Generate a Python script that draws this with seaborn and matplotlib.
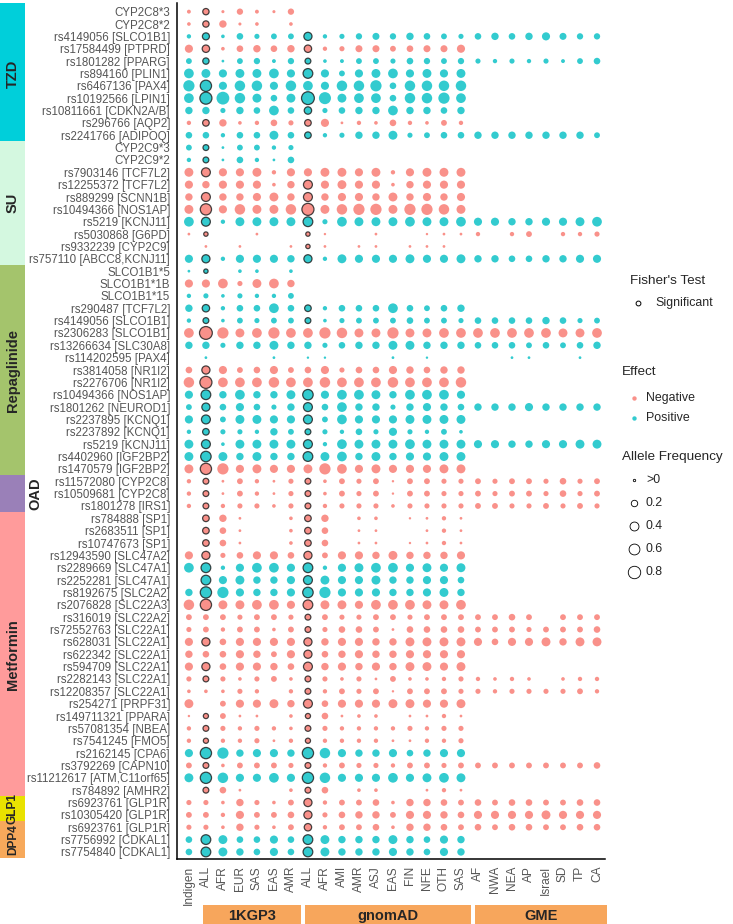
import matplotlib
matplotlib.use("Agg")
import pandas as pd
import matplotlib.pyplot as plt
import matplotlib.transforms as mtransforms
from matplotlib.patches import Rectangle
import seaborn as sns

# === Data ===
populations = ["Indigen", "ALL", "AFR", "EUR", "SAS", "EAS", "AMR",
               "ALL", "AFR", "AMI", "AMR", "ASJ", "EAS", "FIN", "NFE", "OTH", "SAS",
               "AF", "NWA", "NEA", "AP", "Israel", "SD", "TP", "CA"]
sources = ["1KGP3", "gnomAD", "GME"]
source_first_last = [(1, 6), (7, 16), (17, 24)]

drug_groups = ["TZD", "SU", "Repaglinide", "OAD", "Metformin", "GLP1", "DPP4"]
group_sizes = [11, 10, 17, 3, 23, 2, 3]
group_colors = ["#00CFDA", "#D4F8E0", "#A4C46C", "#9A80B8", "#FF9B9B", "#E9E200", "#F7A95B"]

variants = [
    "CYP2C8*3", "CYP2C8*2", "rs4149056 [SLCO1B1]", "rs17584499 [PTPRD]", "rs1801282 [PPARG]",
    "rs894160 [PLIN1]", "rs6467136 [PAX4]", "rs10192566 [LPIN1]", "rs10811661 [CDKN2A/B]",
    "rs296766 [AQP2]", "rs2241766 [ADIPOQ]",
    "CYP2C9*3", "CYP2C9*2", "rs7903146 [TCF7L2]", "rs12255372 [TCF7L2]", "rs889299 [SCNN1B]",
    "rs10494366 [NOS1AP]", "rs5219 [KCNJ11]", "rs5030868 [G6PD]", "rs9332239 [CYP2C9]",
    "rs757110 [ABCC8,KCNJ11]",
    "SLCO1B1*5", "SLCO1B1*1B", "SLCO1B1*15", "rs290487 [TCF7L2]", "rs4149056 [SLCO1B1]",
    "rs2306283 [SLCO1B1]", "rs13266634 [SLC30A8]", "rs114202595 [PAX4]", "rs3814058 [NR1I2]",
    "rs2276706 [NR1I2]", "rs10494366 [NOS1AP]", "rs1801262 [NEUROD1]", "rs2237895 [KCNQ1]",
    "rs2237892 [KCNQ1]", "rs5219 [KCNJ11]", "rs4402960 [IGF2BP2]", "rs1470579 [IGF2BP2]",
    "rs11572080 [CYP2C8]", "rs10509681 [CYP2C8]", "rs1801278 [IRS1]",
    "rs784888 [SP1]", "rs2683511 [SP1]", "rs10747673 [SP1]", "rs12943590 [SLC47A2]",
    "rs2289669 [SLC47A1]", "rs2252281 [SLC47A1]", "rs8192675 [SLC2A2]", "rs2076828 [SLC22A3]",
    "rs316019 [SLC22A2]", "rs72552763 [SLC22A1]", "rs628031 [SLC22A1]", "rs622342 [SLC22A1]",
    "rs594709 [SLC22A1]", "rs2282143 [SLC22A1]", "rs12208357 [SLC22A1]", "rs254271 [PRPF31]",
    "rs149711321 [PPARA]", "rs57081354 [NBEA]", "rs7541245 [FMO5]", "rs2162145 [CPA6]",
    "rs3792269 [CAPN10]", "rs11212617 [ATM,C11orf65]", "rs784892 [AMHR2]",
    "rs6923761 [GLP1R]", "rs10305420 [GLP1R]",
    "rs6923761 [GLP1R]", "rs7756992 [CDKAL1]", "rs7754840 [CDKAL1]",
]

# N = negative effect, P = positive effect (one per variant row)
effect_codes = ("NNPNPPPPPNP" + "PPNNNNPNNP" + "PNPPPNPPNNPPPPPPN" + "NNN"
                + "NNNNPPPNNNNNNNNNNNNPNPN" + "NN" + "NPP")

# allele frequency per variant, one value per population column (None = not available)
N_ = None
allele_freq = [
    [0.06, 0.19, 0.03, 0.19, 0.06, 0.03, 0.19],
    [0.05, 0.19, 0.27, 0.03, 0.05, N_, 0.05],
    [0.08, 0.24, 0.05, 0.21, 0.12, 0.16, 0.16, 0.33, 0.08, 0.12, 0.19, 0.24, 0.19, 0.27, 0.21, 0.16, 0.12, 0.21, 0.27, 0.21, 0.27, 0.33, 0.24, 0.19, 0.19],
    [0.33, 0.27, 0.05, 0.21, 0.27, 0.21, 0.27, 0.27, 0.08, 0.12, 0.24, 0.24, 0.16, 0.21, 0.24, 0.24, 0.33],
    [0.16, 0.19, 0.02, 0.16, 0.19, 0.06, 0.19, 0.16, 0.05, 0.06, 0.16, 0.16, 0.12, 0.21, 0.19, 0.16, 0.19, 0.12, 0.08, 0.12, 0.08, 0.12, 0.06, 0.16, 0.21],
    [0.48, 0.4, 0.33, 0.4, 0.4, 0.48, 0.33, 0.48, 0.33, 0.16, 0.33, 0.4, 0.48, 0.33, 0.4, 0.33, 0.4],
    [0.65, 0.65, 0.33, 0.56, 0.56, 0.33, 0.56, 0.48, 0.33, 0.56, 0.56, 0.65, 0.21, 0.56, 0.56, 0.56, 0.56],
    [0.48, 0.75, 0.85, 0.56, 0.4, 0.21, 0.4, 0.85, 0.75, 0.4, 0.48, 0.48, 0.21, 0.56, 0.56, 0.65, 0.48],
    [0.27, 0.27, 0.12, 0.27, 0.21, 0.48, 0.21, 0.27, 0.12, 0.21, 0.27, 0.27, 0.48, 0.27, 0.27, 0.21, 0.27],
    [0.08, 0.21, 0.27, 0.05, 0.08, 0.21, 0.12, 0.21, 0.33, 0.02, 0.08, 0.05, 0.21, 0.08, 0.05, 0.16, 0.08],
    [0.21, 0.21, 0.08, 0.21, 0.21, 0.4, 0.21, 0.21, 0.08, 0.12, 0.27, 0.27, 0.4, 0.12, 0.16, 0.21, 0.21, 0.27, 0.27, 0.27, 0.27, 0.27, 0.27, 0.27, 0.16],
    [0.16, 0.16, 0.02, 0.16, 0.16, 0.08, 0.12],
    [0.08, 0.16, 0.02, 0.21, 0.08, 0.02, 0.21],
    [0.4, 0.4, 0.33, 0.33, 0.4, 0.08, 0.33, 0.33, 0.4, 0.4, 0.33, 0.4, 0.08, 0.33, 0.4, 0.4, 0.4],
    [0.33, 0.27, 0.33, 0.33, 0.33, 0.05, 0.27, 0.4, 0.33, 0.4, 0.33, 0.33, 0.05, 0.27, 0.33, 0.33, 0.33],
    [0.27, 0.4, 0.27, 0.27, 0.33, 0.4, 0.27, 0.4, 0.27, 0.33, 0.33, 0.27, 0.4, 0.27, 0.33, 0.27, 0.33],
    [0.4, 0.65, 0.33, 0.56, 0.4, 0.4, 0.56, 0.75, 0.4, 0.56, 0.65, 0.65, 0.4, 0.65, 0.65, 0.56, 0.4],
    [0.48, 0.4, 0.08, 0.4, 0.4, 0.4, 0.4, 0.48, 0.12, 0.48, 0.4, 0.4, 0.4, 0.48, 0.4, 0.4, 0.48, 0.33, 0.33, 0.27, 0.27, 0.33, 0.33, 0.4, 0.48],
    [0.02, 0.08, N_, N_, 0.02, N_, N_, 0.08, 0.01, N_, N_, 0.02, N_, N_, 0.01, 0.02, 0.02, 0.08, N_, 0.08, 0.16, N_, 0.08, 0.08, 0.12],
    [N_, 0.02, N_, 0.02, N_, N_, 0.02, 0.08, 0.02, N_, 0.02, 0.02, N_, 0.02, 0.02, 0.02],
    [0.33, 0.33, 0.08, 0.33, 0.33, 0.33, 0.27, 0.33, 0.08, 0.4, 0.33, 0.33, 0.33, 0.4, 0.33, 0.33, 0.4, 0.27, 0.27, 0.21, 0.21, 0.27, 0.27, 0.33, 0.33],
    [0.02, 0.08, N_, 0.05, 0.05, N_, 0.05],
    [0.33, 0.33, 0.48, 0.12, 0.4, 0.48, 0.27],
    [0.08, 0.12, 0.05, 0.12, 0.08, 0.08, 0.16],
    [0.27, 0.27, 0.08, 0.21, 0.21, 0.48, 0.21, 0.21, 0.08, 0.21, 0.21, 0.21, 0.48, 0.21, 0.16, 0.21, 0.27],
    [0.08, 0.16, 0.05, 0.16, 0.12, 0.16, 0.16, 0.16, 0.05, 0.12, 0.16, 0.16, 0.16, 0.21, 0.16, 0.16, 0.12, 0.21, 0.21, 0.21, 0.21, 0.27, 0.21, 0.12, 0.16],
    [0.48, 0.85, 0.65, 0.4, 0.48, 0.65, 0.48, 0.48, 0.65, 0.56, 0.4, 0.4, 0.65, 0.4, 0.4, 0.48, 0.48, 0.48, 0.48, 0.48, 0.48, 0.48, 0.4, 0.4, 0.48],
    [0.27, 0.27, 0.12, 0.27, 0.27, 0.4, 0.27, 0.27, 0.12, 0.21, 0.27, 0.27, 0.4, 0.4, 0.27, 0.27, 0.27, 0.21, 0.21, 0.21, 0.16, 0.21, 0.16, 0.21, 0.27],
    [N_, 0.02, N_, N_, N_, 0.02, N_, 0.01, 0.01, N_, N_, N_, 0.02, N_, 0.01, N_, N_, N_, N_, 0.02, 0.02, N_, N_, 0.02, N_],
    [0.21, 0.33, 0.33, 0.16, 0.21, 0.33, 0.16, 0.21, 0.33, 0.12, 0.21, 0.21, 0.33, 0.27, 0.21, 0.27, 0.27],
    [0.56, 0.75, 0.48, 0.48, 0.48, 0.56, 0.48, 0.48, 0.56, 0.48, 0.48, 0.48, 0.56, 0.48, 0.48, 0.48, 0.56],
    [0.33, 0.48, 0.27, 0.48, 0.27, 0.27, 0.4, 0.56, 0.33, 0.48, 0.48, 0.4, 0.27, 0.48, 0.48, 0.48, 0.33],
    [0.16, 0.33, 0.21, 0.33, 0.21, 0.12, 0.27, 0.4, 0.21, 0.48, 0.27, 0.27, 0.12, 0.27, 0.33, 0.27, 0.21, 0.27, 0.27, 0.27, 0.33, 0.27, 0.27, 0.27, 0.27],
    [0.33, 0.4, 0.16, 0.4, 0.4, 0.33, 0.33, 0.4, 0.16, 0.48, 0.33, 0.33, 0.33, 0.4, 0.4, 0.4, 0.4],
    [0.08, 0.21, 0.12, 0.12, 0.08, 0.27, 0.16, 0.16, 0.12, 0.08, 0.21, 0.12, 0.33, 0.12, 0.08, 0.16, 0.05],
    [0.4, 0.4, 0.05, 0.4, 0.4, 0.4, 0.4, 0.4, 0.08, 0.48, 0.4, 0.4, 0.4, 0.48, 0.4, 0.4, 0.4, 0.33, 0.33, 0.27, 0.27, 0.33, 0.33, 0.4, 0.4],
    [0.4, 0.56, 0.4, 0.27, 0.4, 0.27, 0.27, 0.48, 0.4, 0.48, 0.27, 0.4, 0.27, 0.33, 0.33, 0.4, 0.4],
    [0.4, 0.65, 0.65, 0.33, 0.4, 0.33, 0.33, 0.4, 0.65, 0.48, 0.33, 0.4, 0.33, 0.33, 0.33, 0.4, 0.4],
    [0.08, 0.16, 0.02, 0.16, 0.08, 0.02, 0.12, 0.16, 0.05, 0.16, 0.12, 0.16, 0.01, 0.16, 0.16, 0.12, 0.12, 0.16, 0.12, 0.16, 0.16, 0.12, 0.21, 0.12, 0.16],
    [0.08, 0.16, 0.02, 0.16, 0.08, 0.02, 0.12, 0.16, 0.05, 0.16, 0.12, 0.16, 0.01, 0.16, 0.16, 0.12, 0.12, 0.16, 0.12, 0.16, 0.16, 0.12, 0.21, 0.12, 0.16],
    [0.08, 0.16, 0.08, 0.12, 0.12, 0.05, 0.12, 0.16, 0.08, 0.12, 0.12, 0.12, 0.05, 0.12, 0.12, 0.12, 0.12, 0.16, 0.16, 0.12, 0.12, 0.16, 0.12, 0.16, 0.12],
    [N_, 0.21, 0.27, 0.02, N_, N_, 0.05, 0.21, 0.27, N_, 0.05, 0.05, N_, 0.01, 0.02, 0.08, 0.02],
    [N_, 0.21, 0.21, 0.02, N_, N_, 0.05, 0.21, 0.21, N_, 0.02, 0.02, N_, N_, 0.02, 0.08, 0.02],
    [N_, 0.21, 0.21, 0.02, N_, N_, 0.05, 0.21, 0.21, N_, 0.02, 0.02, N_, 0.01, 0.02, 0.08, 0.02],
    [0.33, 0.33, 0.12, 0.21, 0.33, 0.33, 0.21, 0.33, 0.16, 0.33, 0.33, 0.27, 0.4, 0.27, 0.27, 0.27, 0.33],
    [0.48, 0.48, 0.08, 0.33, 0.48, 0.48, 0.33, 0.48, 0.08, 0.33, 0.4, 0.48, 0.48, 0.33, 0.4, 0.33, 0.4],
    [N_, 0.48, 0.33, 0.4, 0.27, 0.27, 0.33, 0.4, 0.4, 0.33, 0.33, 0.4, 0.27, 0.27, 0.33, 0.33, 0.21],
    [0.27, 0.65, 0.65, 0.33, 0.27, 0.27, 0.33, 0.56, 0.65, 0.33, 0.33, 0.33, 0.27, 0.27, 0.33, 0.4, 0.27],
    [0.56, 0.65, 0.4, 0.4, 0.48, 0.48, 0.33, 0.48, 0.4, 0.4, 0.33, 0.48, 0.48, 0.48, 0.4, 0.4, 0.48],
    [0.16, 0.16, 0.16, 0.12, 0.16, 0.16, 0.12, 0.16, 0.16, 0.12, 0.12, 0.16, 0.16, 0.12, 0.16, 0.16, 0.16, 0.16, 0.16, 0.21, 0.16, N_, 0.16, 0.16, 0.16],
    [0.12, 0.16, 0.08, 0.16, 0.16, 0.05, 0.16, 0.16, 0.12, 0.21, 0.21, 0.16, 0.02, 0.21, 0.21, 0.21, 0.21, 0.16, 0.16, 0.16, 0.12, 0.16, 0.16, 0.16, 0.21],
    [0.33, 0.33, 0.21, 0.33, 0.33, 0.33, 0.33, 0.33, 0.27, 0.33, 0.33, 0.27, 0.27, 0.4, 0.4, 0.4, 0.4, 0.33, 0.21, 0.33, 0.33, 0.4, 0.27, 0.4, 0.4],
    [0.27, 0.21, 0.21, 0.33, 0.27, 0.16, 0.33, 0.33, 0.21, 0.27, 0.33, 0.27, 0.27, 0.33, 0.33, 0.33, 0.33],
    [0.33, 0.33, 0.21, 0.33, 0.33, 0.27, 0.21, 0.4, 0.27, 0.33, 0.27, 0.33, 0.27, 0.4, 0.4, 0.33, 0.4],
    [0.12, 0.16, 0.12, 0.05, 0.12, 0.16, 0.05, 0.16, 0.12, 0.05, 0.12, 0.02, 0.16, 0.05, 0.05, 0.08, 0.12, 0.08, 0.05, 0.08, 0.05, N_, 0.05, 0.08, 0.08],
    [0.05, 0.05, 0.05, 0.12, 0.08, N_, 0.08, 0.16, 0.08, 0.16, 0.12, 0.16, 0.01, 0.16, 0.16, 0.16, 0.12, 0.12, 0.08, 0.12, 0.12, 0.12, 0.12, 0.16, 0.08],
    [0.4, N_, 0.16, 0.33, 0.33, 0.4, 0.27, 0.4, 0.21, 0.33, 0.33, 0.33, 0.4, 0.4, 0.33, 0.33, 0.4],
    [0.01, 0.12, 0.16, 0.02, 0.02, N_, 0.05, 0.12, 0.21, 0.02, 0.05, 0.05, N_, 0.02, 0.02, 0.08, 0.02],
    [0.08, 0.16, 0.12, 0.08, 0.12, 0.08, 0.05, 0.16, 0.12, 0.08, 0.08, 0.08, 0.08, 0.12, 0.08, 0.12, 0.12],
    [0.08, 0.12, 0.08, 0.08, 0.12, 0.02, 0.08, 0.12, 0.08, 0.08, 0.08, 0.08, 0.02, 0.02, 0.08, 0.08, 0.12],
    [0.33, 0.65, 0.65, 0.27, 0.33, 0.33, 0.27, 0.65, 0.56, 0.33, 0.27, 0.27, 0.33, 0.21, 0.27, 0.33, 0.33],
    [0.16, 0.16, 0.05, 0.16, 0.16, 0.16, 0.12, 0.16, 0.08, 0.16, 0.12, 0.12, 0.08, 0.16, 0.16, 0.12, 0.16, 0.16, 0.16, 0.16, 0.16, 0.16, 0.16, 0.16, 0.21],
    [0.4, 0.65, 0.56, 0.33, 0.33, 0.48, 0.33, 0.65, 0.56, 0.33, 0.33, 0.33, 0.48, 0.33, 0.4, 0.48, 0.4],
    [N_, 0.16, 0.21, 0.02, N_, N_, 0.05, 0.16, 0.21, N_, 0.05, 0.05, N_, N_, 0.02, 0.08, 0.02],
    [0.12, 0.12, 0.05, 0.27, 0.12, 0.05, 0.16, 0.33, 0.08, 0.16, 0.16, 0.21, 0.05, 0.27, 0.27, 0.21, 0.16, 0.21, 0.16, 0.21, 0.21, 0.16, 0.16, 0.21, 0.21],
    [0.16, 0.16, 0.08, 0.33, 0.16, 0.16, 0.21, 0.33, 0.12, 0.21, 0.27, 0.27, 0.16, 0.33, 0.33, 0.27, 0.21, 0.33, 0.33, 0.33, 0.33, 0.4, 0.33, 0.33, 0.33],
    [0.12, 0.12, 0.05, 0.27, 0.12, 0.05, 0.16, 0.27, 0.08, 0.16, 0.16, 0.21, 0.05, 0.27, 0.27, 0.21, 0.16, 0.21, 0.16, 0.21, 0.21, 0.16, 0.16, 0.21, 0.21],
    [0.21, 0.48, 0.4, 0.21, 0.21, 0.33, 0.21, 0.48, 0.4, 0.27, 0.27, 0.27, 0.4, 0.27, 0.21, 0.33, 0.27],
    [0.21, 0.48, 0.4, 0.27, 0.21, 0.33, 0.21, 0.48, 0.4, 0.27, 0.27, 0.27, 0.33, 0.27, 0.21, 0.33, 0.27],
]

# rows (1-based, top to bottom) with a significant Fisher's test in 1KGP3 ALL / gnomAD ALL
sig_1kgp3_rows = [1, 2, 3, 4, 5, 7, 8, 10, 12, 13, 14, 16, 17, 18, 19, 21, 22, 25, 26, 27,
                  30, 31, 32, 33, 34, 35, 36, 37, 38, 39, 40, 41, 42, 43, 44, 45, 46, 47, 48,
                  49, 52, 54, 55, 58, 59, 60, 61, 62, 63, 64, 68, 69]
sig_gnomad_rows = [3, 4, 5, 6, 8, 9, 10, 11, 15, 16, 17, 18, 19, 20, 21, 25, 26, 32, 33, 34,
                   35, 36, 37, 39, 40, 41, 42, 43, 44, 45, 46, 47, 48, 49, 50, 51, 52, 53, 54,
                   55, 56, 57, 58, 59, 60, 61, 62, 63, 64, 65, 66, 67, 68, 69]

effect_names = {"N": "Negative", "P": "Positive"}
palette = {"Negative": "#F8766D", "Positive": "#00BFC4"}
legend_sizes = [0.01, 0.2, 0.4, 0.6, 0.8]
legend_size_labels = [">0", "0.2", "0.4", "0.6", "0.8"]
SIZES = (2, 100)

# === Long table ===
records = []
for i, row in enumerate(allele_freq):
    for j, val in enumerate(row):
        if val is None:
            continue
        sig = (j == 1 and (i + 1) in sig_1kgp3_rows) or (j == 7 and (i + 1) in sig_gnomad_rows)
        records.append({"row": i, "col": j, "af": val,
                        "effect": effect_names[effect_codes[i]], "sig": sig})
df = pd.DataFrame(records)

# === Figure ===
sns.set_style("white")
plt.rcParams["font.family"] = ["Liberation Sans", "DejaVu Sans"]
W, H = 733, 924
fig = plt.figure(figsize=(W / 100, H / 100), dpi=100)
ax = fig.add_axes([177 / W, 65 / H, 428 / W, 856 / H])

common = dict(x="col", y="row", hue="effect", size="af", sizes=SIZES, size_norm=(0, 1),
              palette=palette, alpha=0.8, legend=False, ax=ax)
sns.scatterplot(data=df[~df["sig"]], linewidth=0, **common)
sns.scatterplot(data=df[df["sig"]], edgecolor="#1a1a1a", linewidth=0.9, **common)

n_rows = len(variants)
ax.set_xlim(-0.7, len(populations) - 0.53)
ax.set_ylim(n_rows - 0.43, -0.7)
ax.set_xticks(range(len(populations)))
ax.set_xticklabels(populations, rotation=90, fontsize=8.6, color="#555555")
ax.set_yticks(range(n_rows))
ax.set_yticklabels(variants, fontsize=8.3, color="#555555")
ax.set_xlabel("")
ax.set_ylabel("")
ax.tick_params(length=3, width=0.8, color="#333333", pad=2)
sns.despine(ax=ax)
for side in ["left", "bottom"]:
    ax.spines[side].set_color("black")
    ax.spines[side].set_linewidth(1.1)

# === Data source boxes under the x axis ===
trans = mtransforms.blended_transform_factory(ax.transData, ax.transAxes)
for name, (first, last) in zip(sources, source_first_last):
    x0, x1 = first - 0.2, last + 0.6
    ax.add_patch(Rectangle((x0, -0.0765), x1 - x0, 0.0225, transform=trans,
                           color="#F7A65C", clip_on=False, lw=0))
    ax.text((x0 + x1) / 2, -0.0665, name, transform=trans, ha="center", va="center",
            fontsize=10.5, fontweight="bold", clip_on=False)

# === Drug group band on the left ===
band = fig.add_axes([0, 65 / H, 25 / W, 856 / H])
band.set_xlim(0, 1)
band.set_ylim(ax.get_ylim())
band.axis("off")
start = 0
for name, size, color in zip(drug_groups, group_sizes, group_colors):
    bottom = start - 0.5 if start > 0 else -0.7
    band.bar(0.5, start + size - 0.5 - bottom, bottom=bottom, width=1, color=color, lw=0)
    xt = 1.4 if name == "OAD" else 0.52
    fs = 8.6 if size <= 3 and name != "OAD" else 10.5
    band.text(xt, start - 0.5 + size / 2, name, rotation=90, ha="center", va="center",
              fontsize=fs, fontweight="bold", clip_on=False)
    start += size

# === Legends (drawn in pixel coordinates on an overlay) ===
lg = fig.add_axes([0, 0, 1, 1])
lg.set_xlim(0, W)
lg.set_ylim(H, 0)
lg.axis("off")

def size_of(v):
    return SIZES[0] + (SIZES[1] - SIZES[0]) * v

lg.text(630, 281, "Fisher's Test", fontsize=9.7, va="center")
lg.scatter([638], [303], s=12, facecolor="white", edgecolor="black", lw=0.7)
lg.text(655, 303, "Significant", fontsize=8.9, va="center")

lg.text(622, 372, "Effect", fontsize=9.7, va="center")
for k, (lab, col) in enumerate(palette.items()):
    y = 398 + 20 * k
    lg.scatter([634], [y], s=10, color=col, alpha=0.8, lw=0)
    lg.text(646, y, lab, fontsize=8.9, va="center")

lg.text(622, 457, "Allele Frequency", fontsize=9.7, va="center")
for k, (v, lab) in enumerate(zip(legend_sizes, legend_size_labels)):
    y = 480 + 23 * k
    lg.scatter([634], [y], s=size_of(v), facecolor="white", edgecolor="black", lw=0.6)
    lg.text(646, y, lab, fontsize=8.9, va="center")

fig.savefig("out.png", dpi=100)
